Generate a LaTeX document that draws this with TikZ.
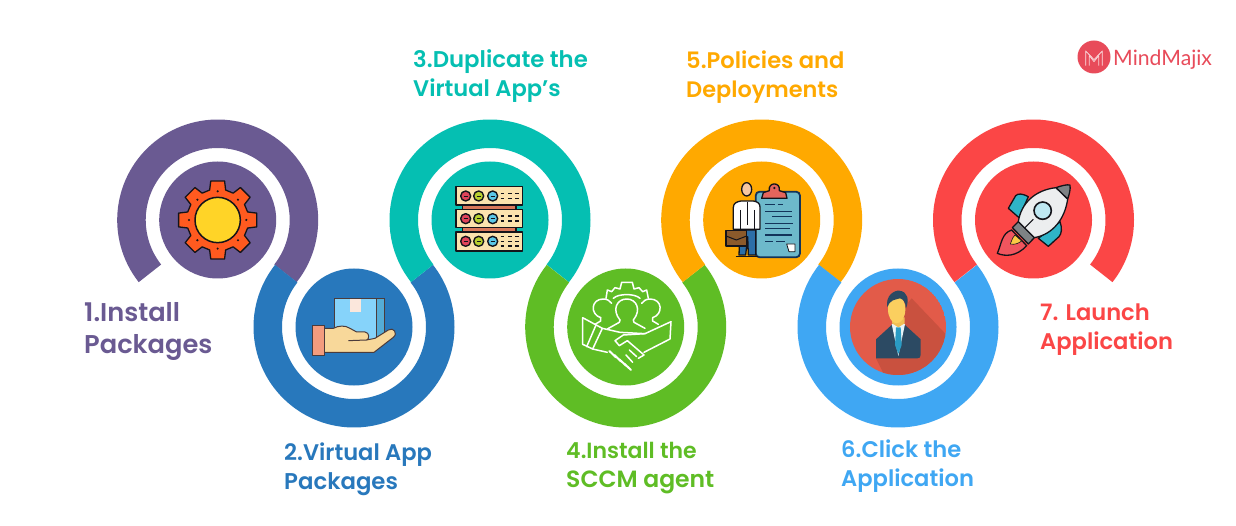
\documentclass[tikz,border=0pt]{standalone}
\usepackage{fontspec}
\setmainfont{Poppins}
\newfontfamily\labfont{Poppins SemiBold}
\newfontfamily\logofont{Lato}
\definecolor{cpurple}{HTML}{6A5A92}
\definecolor{cblue}{HTML}{2878BC}
\definecolor{cteal}{HTML}{05BFB2}
\definecolor{cgreen}{HTML}{5FBD25}
\definecolor{corange}{HTML}{FFA900}
\definecolor{csky}{HTML}{3FA7F3}
\definecolor{cred}{HTML}{FB4646}
\definecolor{ink}{HTML}{14141A}
\definecolor{navy}{HTML}{12345A}
\definecolor{logored}{HTML}{E84B5A}
\definecolor{gearfill}{HTML}{FF5A1F}
\definecolor{gearcore}{HTML}{FFD427}
\definecolor{boxblue}{HTML}{86D3FA}
\definecolor{boxband}{HTML}{55ACD6}
\definecolor{tapec}{HTML}{FBE7DC}
\definecolor{handc}{HTML}{F8D89A}
\definecolor{cuffc}{HTML}{F39C7E}
\definecolor{handline}{HTML}{4B3B3B}
\definecolor{rackc}{HTML}{FBE3AE}
\definecolor{rackbar}{HTML}{D9785A}
\definecolor{ledr}{HTML}{E0445A}
\definecolor{ledg}{HTML}{B8D030}
\definecolor{ledc}{HTML}{5CC8E8}
\definecolor{boardc}{HTML}{6DB9CB}
\definecolor{clipc}{HTML}{E4655C}
\definecolor{legc}{HTML}{2C6FA8}
\definecolor{casec}{HTML}{8B5A2B}
\definecolor{skinc}{HTML}{F6C6A0}
\definecolor{pdisk}{HTML}{E25B49}
\definecolor{pshadow}{HTML}{C9513F}
\definecolor{psuit}{HTML}{2C4A63}
\definecolor{pshirt}{HTML}{EAF5F8}
\definecolor{ptie}{HTML}{2A9BC4}
\definecolor{pneck}{HTML}{F1BE55}
\definecolor{pface}{HTML}{FBCF5F}
\definecolor{rflame}{HTML}{F0555E}
\definecolor{rfin}{HTML}{2FB4C8}
\definecolor{rbody}{HTML}{ECEEEF}
\definecolor{rnose}{HTML}{7E8285}
\definecolor{rglass}{HTML}{BEE8F2}
\definecolor{ryellow}{HTML}{FBCB45}
\newcommand{\ringup}[3]{\fill[#3,shift={(#1pt,{(525-#2)*1pt})}] (218.2:100.5pt) arc[start angle=218.2,end angle=-38.2,radius=100.5pt] -- (-38.2:72pt) arc[start angle=-38.2,end angle=218.2,radius=72pt] -- cycle;}
\newcommand{\ringdown}[3]{\fill[#3,shift={(#1pt,{(525-#2)*1pt})}] (141.8:100.5pt) arc[start angle=141.8,end angle=398.2,radius=100.5pt] -- (38.2:72pt) arc[start angle=398.2,end angle=141.8,radius=72pt] -- cycle;}
\newcommand{\labelline}[6]{\node[lab,text=#4,font=\labfont\fontsize{#5pt}{#5pt}\selectfont] (#1) at (#2pt,{(525-#3)*1pt}) {#6};}
\tikzset{
  disk/.style={circle,minimum size=117pt,inner sep=0pt,draw=none},
  lab/.style={anchor=base west,inner sep=0pt},
  zoomat/.style 2 args={shift={(#1pt,{(525-#2)*1pt})},x=0.33333pt,y=-0.33333pt},
  ol/.style={draw=ink,line width=1.3pt,line join=round},
  hl/.style={draw=handline,line width=1pt,line join=round},
  wl/.style={draw=white,line width=1.5pt,line join=round,line cap=round},
}
\begin{document}
\begin{tikzpicture}[x=1pt,y=1pt]
\useasboundingbox (0,0) rectangle (1236,525);
\fill[white] (0,0) rectangle (1236,525);
% rings
\ringup{217.7}{220}{cpurple}
\ringdown{354}{327}{cblue}
\ringup{490}{220}{cteal}
\ringdown{625.7}{327}{cgreen}
\ringup{761.7}{220}{corange}
\ringdown{898}{327}{csky}
\ringup{1033.5}{220}{cred}
% disks
\node[disk,fill=cpurple] (d1) at (217.7,305) {};
\node[disk,fill=cblue] (d2) at (354,198) {};
\node[disk,fill=cteal] (d3) at (490,305) {};
\node[disk,fill=cgreen] (d4) at (625.7,198) {};
\node[disk,fill=corange] (d5) at (761.7,305) {};
\node[disk,fill=csky] (d6) at (898,198) {};
\node[disk,fill=cred] (d7) at (1033.5,305) {};
% gear
\begin{scope}[zoomat={100}{110}]
\begin{scope}[shift={(353,330)}]
\draw[ol,fill=gearfill] (-15:93) \foreach \a in {0,45,...,315}{ -- (\a-15:93) -- (\a-10:119) -- (\a+10:119) -- (\a+15:93)} -- cycle;
\foreach \a in {0,45,...,315}{\fill[ink] (\a:86) circle[radius=3.5];}
\draw[ol,line width=1.5pt,fill=gearcore] (0,0) circle[radius=68];
\end{scope}
% box and hand
\draw[hl,fill=boxblue] (702,565) rectangle (852,690);
\draw[hl,fill=boxband] (830,565) rectangle (852,690);
\fill[tapec] (750,567) -- (782,567) -- (782,606) -- (750,606) -- cycle;
\draw[hl,fill=handc] (673,655) -- (700,655) .. controls (715,647) and (735,645) .. (750,655) -- (770,666) -- (795,666) .. controls (810,668) and (808,688) .. (800,690) -- (825,685) -- (865,660) .. controls (880,650) and (895,670) .. (880,682) -- (822,727) -- (673,727) -- cycle;
\draw[hl] (745,692) -- (800,690);
\draw[hl,fill=cuffc] (638,647) rectangle (673,737);
\end{scope}
% server
\begin{scope}[zoomat={380}{110}]
\draw[ol,fill=rackbar] (247,285) rectangle (408,298);
\draw[ol,fill=rackbar] (247,353) rectangle (408,366);
\foreach \y/\h in {230/55,298/55,366/57}{
  \draw[ol,line width=1.5pt,fill=rackc] (228,\y) rectangle (427,\y+\h);
  \foreach \x/\c in {257/ledr,296/ledg,338/ledc}{
    \draw[ol,line width=1.4pt,fill=\c] (\x,\y+28) circle[radius=15];
    \draw[ink,line width=.7pt] (\x-6,\y+28) -- (\x+6,\y+28);
  }
}
\foreach \y in {230,298}{
  \foreach \x in {362,385,405}{
    \draw[ink,line width=1.3pt] (\x,\y+20) -- (\x+11,\y+20) (\x,\y+35) -- (\x+11,\y+35);
  }
}
\foreach \x in {362,385,405}{
  \foreach \d in {14,28,42}{\draw[ink,line width=1.3pt] (\x,366+\d) -- (\x+11,366+\d);}
}
\end{scope}
% handshake
\begin{scope}[zoomat={570}{275}]
\draw[wl] (38,128) -- (97,160) -- (68,222) -- (38,208) -- cycle;
\draw[wl] (78,150) -- (50,215);
\draw[wl] (97,160) -- (150,172) -- (225,176) -- (303,140) -- (300,192) -- (222,232);
\draw[wl] (225,176) -- (160,180) -- (135,197) -- (148,212) -- (172,197) -- (222,240) -- (205,250);
\draw[wl] (68,222) -- (112,232);
\foreach \x/\y in {118/228,133/240,148/253,163/266}{\draw[wl,line width=2pt] (\x,\y) -- (\x+20,\y+19);}
\draw[wl] (178,225) -- (200,245) (168,240) -- (188,262);
% people
\draw[wl] (150,135) .. controls (125,105) and (140,72) .. (170,72) .. controls (200,72) and (215,105) .. (190,135) -- (192,142) -- (225,160);
\draw[wl] (150,135) -- (148,142) -- (112,162);
\draw[wl] (92,128) .. controls (60,118) and (62,72) .. (100,72) .. controls (112,72) and (120,78) .. (125,85);
\draw[wl] (92,128) -- (92,138) -- (75,148);
\draw[wl] (248,128) .. controls (280,118) and (278,72) .. (240,72) .. controls (228,72) and (220,78) .. (215,85);
\draw[wl] (248,128) -- (248,138) -- (265,148);
\draw[wl] (108,70) -- (112,45) -- (125,50) -- (135,38) -- (150,42) -- (155,22) -- (187,22) -- (192,42) -- (207,38) -- (218,50) -- (230,45) -- (235,70);
\draw[wl] (130,70) .. controls (145,55) and (195,55) .. (210,70);
\end{scope}
% man with clipboard
\begin{scope}[zoomat={715}{170}]
\draw[draw=navy,line width=1.8pt,fill=boardc,rounded corners=4pt] (122,65) rectangle (255,262);
\draw[ol,fill=clipc] (140,85) -- (145,68) -- (163,62) .. controls (158,35) and (198,35) .. (193,62) -- (212,68) -- (216,85) -- cycle;
\fill[ink] (178,54) circle[radius=4];
\foreach \y/\a/\b in {103/150/180,103/188/205,125/150/230,140/172/230,160/150/235,175/150/225,195/150/210,195/170/230,215/150/175,215/183/210}{
  \draw[navy,line width=1.3pt] (\a,\y) -- (\b,\y);
}
\draw[ol,fill=white,line width=.8pt] (215,222) -- (240,222) -- (240,245) -- (222,245) -- cycle;
\draw[ol,fill=legc] (75,180) -- (122,180) -- (122,255) -- (100,255) -- (98,200) -- (92,255) -- (72,255) -- cycle;
\draw[ol,fill=white] (55,178) -- (55,112) .. controls (55,100) and (65,95) .. (78,93) -- (115,93) .. controls (128,95) and (135,100) .. (135,112) -- (135,178) -- (55,178) -- cycle;
\draw[ink,line width=1pt] (96,95) -- (96,165) (75,120) -- (75,178) (118,120) -- (118,178);
\draw[ol,fill=skinc] (95,58) ellipse[x radius=15,y radius=20];
\draw[ink,line width=1.6pt] (62,260) -- (128,260);
\draw[ol,fill=casec] (33,182) rectangle (95,228);
\draw[ink,line width=1pt] (33,198) -- (64,210) -- (95,198);
\end{scope}
% person
\begin{scope}[zoomat={850}{280}]
\clip (144,141) circle[radius=144];
\fill[pdisk] (144,141) circle[radius=144];
\fill[pshadow] (185,55) -- (285,160) -- (285,300) -- (110,300) -- (78,235) -- (130,120) -- cycle;
\fill[psuit] (78,235) -- (78,178) -- (125,135) -- (165,135) -- (212,178) -- (212,225) .. controls (212,232) and (208,235) .. (202,235) -- cycle;
\fill[pshirt] (125,132) -- (165,132) -- (145,228) -- cycle;
\fill[ptie] (138,142) -- (152,142) -- (155,195) -- (145,222) -- (135,195) -- cycle;
\fill[pneck] (126,112) -- (164,112) -- (164,130) -- (145,142) -- (126,130) -- cycle;
\fill[pface] (140,88) ellipse[x radius=26,y radius=42];
\fill[psuit] (112,82) .. controls (105,45) and (135,30) .. (148,32) .. controls (174,35) and (178,60) .. (168,85) .. controls (166,65) and (160,58) .. (150,55) .. controls (135,60) and (120,58) .. (112,82) -- cycle;
\end{scope}
% rocket
\begin{scope}[zoomat={985}{175}]
\draw[ol,fill=rflame] (80,165) .. controls (50,175) and (50,205) .. (37,235) .. controls (60,245) and (95,245) .. (125,212) -- cycle;
\draw[ol,line width=.6pt,fill=ryellow] (90,180) .. controls (80,190) and (80,200) .. (76,207) .. controls (90,210) and (100,205) .. (110,198) -- cycle;
\draw[ol,fill=rfin] (130,65) .. controls (110,55) and (100,55) .. (92,62) -- (70,100) -- (102,128) -- cycle;
\draw[ol,fill=rfin] (225,140) .. controls (232,160) and (230,175) .. (222,185) -- (190,214) -- (160,190) -- cycle;
\draw[ol,fill=rnose] (82,158) -- (100,140) -- (148,188) -- (130,207) -- cycle;
\draw[ol,fill=rbody] (100,140) .. controls (108,85) and (150,45) .. (213,38) -- (248,72) .. controls (240,130) and (205,178) .. (148,188) -- cycle;
\draw[ol,fill=rnose] (213,38) .. controls (230,32) and (245,28) .. (255,30) .. controls (257,42) and (253,58) .. (248,72) -- cycle;
\draw[ol,line width=1.6pt,fill=rglass] (173,107) circle[radius=26];
\draw[ink,line width=1pt] (118,160) -- (145,133);
\end{scope}
% logo
\node[circle,fill=logored,minimum size=33pt,inner sep=0pt] (logo) at (1094,468) {};
\begin{scope}[zoomat={1070}{35}]
\draw[white!85!logored,line width=.8pt,line join=round] (47,92) -- (47,48) -- (72,74) -- (97,48) -- (97,92);
\draw[white!75!logored,line width=.8pt,line join=round] (58,92) -- (58,62) -- (72,80) -- (86,62) -- (86,92);
\end{scope}
\node[lab,text=logored,font=\logofont\fontsize{21.2pt}{21.2pt}\selectfont] (logotext) at (1113,459) {MindMajix};
% labels
\labelline{l1a}{84}{321.5}{cpurple}{25.7}{1.Install}
\labelline{l1b}{84}{353.5}{cpurple}{25.7}{Packages}
\labelline{l2a}{284}{460.5}{cblue}{22.6}{2.Virtual App}
\labelline{l2b}{284}{489.5}{cblue}{22.8}{Packages}
\labelline{l3a}{413}{68}{cteal}{22.8}{3.Duplicate the}
\labelline{l3b}{413}{97}{cteal}{22.6}{Virtual App’s}
\labelline{l4a}{566}{458.5}{cgreen}{22}{4.Install the}
\labelline{l4b}{566}{487.5}{cgreen}{23.5}{SCCM agent}
\labelline{l5a}{686}{68.5}{corange}{22.6}{5.Policies and}
\labelline{l5b}{686}{97.5}{corange}{22.4}{Deployments}
\labelline{l6a}{841}{457.5}{csky}{22.6}{6.Click the}
\labelline{l6b}{841}{486.5}{csky}{22.6}{Application}
\labelline{l7a}{1040}{320.5}{cred}{22.6}{7. Launch}
\labelline{l7b}{1040}{349.5}{cred}{22.6}{Application}
\end{tikzpicture}
\end{document}
